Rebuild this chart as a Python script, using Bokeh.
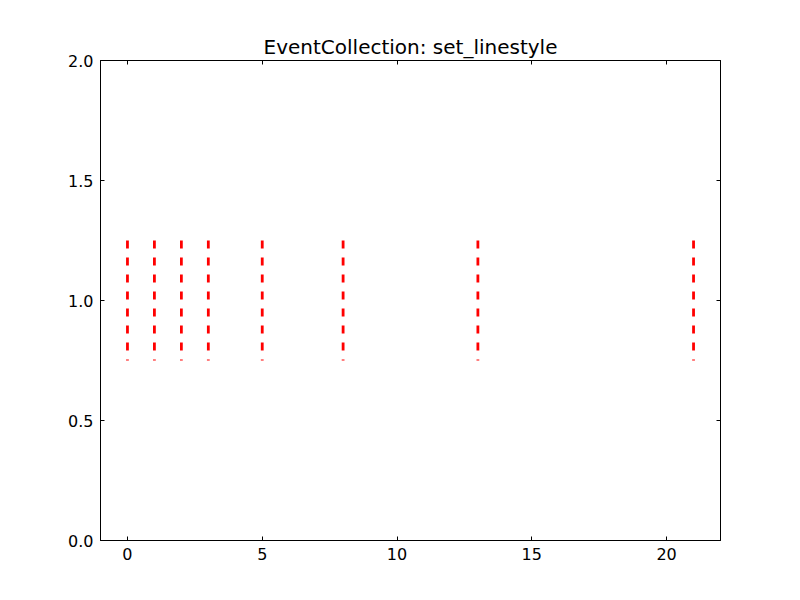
from bokeh.plotting import figure
from bokeh.models import LinearAxis, FixedTicker, NumeralTickFormatter, Range1d, Title
from bokeh.embed import file_html
from bokeh.resources import INLINE

# data
positions = [0, 1, 2, 3, 5, 8, 13, 21]
lineoffset = 1.0
linelength = 0.5
x_ticks = [0, 5, 10, 15, 20]
y_ticks = [0.0, 0.5, 1.0, 1.5, 2.0]
title_text = "EventCollection: set_linestyle"

FONT = "DejaVu Sans"

p = figure(width=800, height=600, output_backend="svg", toolbar_location=None,
           x_range=Range1d(-1, 22), y_range=Range1d(0, 2),
           min_border_left=100, min_border_right=80, min_border_top=60, min_border_bottom=60)
p.title = None

p.xgrid.visible = False
p.ygrid.visible = False
p.outline_line_color = "black"
p.outline_line_width = 1
p.background_fill_color = "white"
p.border_fill_color = "white"

y0 = [lineoffset + linelength / 2] * len(positions)
y1 = [lineoffset - linelength / 2] * len(positions)
p.segment(x0=positions, y0=y0, x1=positions, y1=y1, line_color="red", line_width=2.8,
          line_dash="8 9", line_cap="butt")

def style(ax, labels=True, ticks=None):
    ax.axis_line_color = "black"
    ax.axis_line_width = 1
    ax.major_tick_in = 4
    ax.major_tick_out = 0
    ax.minor_tick_line_color = None
    ax.major_tick_line_color = "black"
    ax.major_label_text_font = FONT
    ax.major_label_text_color = "black"
    ax.major_label_text_font_size = "16px"
    if labels:
        ax.major_label_standoff = 7
    else:
        ax.major_label_standoff = 0
        ax.major_label_overrides = {t: "" for t in ticks}

xb = p.xaxis[0]
yl = p.yaxis[0]
xb.ticker = FixedTicker(ticks=x_ticks)
yl.ticker = FixedTicker(ticks=y_ticks)
yl.formatter = NumeralTickFormatter(format="0.0")
style(xb)
style(yl)

xt = LinearAxis(ticker=FixedTicker(ticks=x_ticks))
yr = LinearAxis(ticker=FixedTicker(ticks=y_ticks))
style(xt, labels=False, ticks=x_ticks)
style(yr, labels=False, ticks=y_ticks)
p.add_layout(xt, "above")
p.add_layout(yr, "right")
p.add_layout(Title(text=title_text, align="center", text_font=FONT, text_font_size="20px",
                   text_font_style="normal", text_color="black", standoff=4), "above")

open("out.html", "w").write(file_html(p, INLINE))
